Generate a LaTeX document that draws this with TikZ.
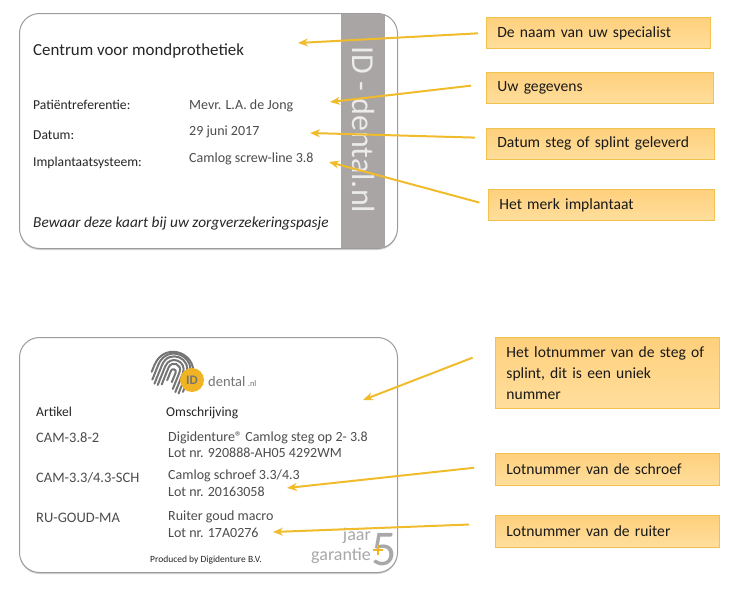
\documentclass[tikz,border=0pt]{standalone}
\usepackage{fontspec}
\usepackage{xcolor}
\usetikzlibrary{arrows.meta,shadows}
\setmainfont{Carlito}
\definecolor{cardline}{HTML}{9C9C9C}
\definecolor{stripgray}{HTML}{A9A5A4}
\definecolor{arrowgold}{HTML}{F1BC2C}
\definecolor{boxline}{HTML}{F2C24F}
\definecolor{boxtop}{HTML}{FFD07C}
\definecolor{boxbottom}{HTML}{FFDE9C}
\definecolor{logogold}{HTML}{F0B323}
\definecolor{logogray}{HTML}{757575}
\definecolor{softgray}{HTML}{A8A8A8}
\tikzset{
    card-box/.style = {draw=cardline, fill=white, line width=1pt, rectangle, rounded corners=20pt, anchor=north west, minimum width=378pt, minimum height=235pt, drop shadow={shadow xshift=0pt, shadow yshift=-1.5pt, opacity=.35}},
    info-box/.style = {draw=boxline, top color=boxtop, bottom color=boxbottom, line width=.8pt, rectangle, anchor=north west, inner xsep=11pt, inner ysep=0pt, align=left, text=black!90, font=\fontsize{15.6}{21}\selectfont},
    card-label/.style = {anchor=base west, inner sep=0pt, text=black!85, font=\fontsize{13.6}{16}\selectfont},
    card-value/.style = {card-label, text=black!70, font=\fontsize{14}{16}\selectfont},
    card-code/.style = {card-label, text=black!70, font=\fontsize{14.5}{16}\selectfont},
    lead-line/.style = {draw=arrowgold, line width=2pt, -{Stealth[length=10pt,width=8pt]}},
    finger-line/.style = {draw=logogray, line width=2pt, line cap=round},
}

\begin{document}
\begin{tikzpicture}[x=1pt,y=-1pt]
\useasboundingbox (0,0) rectangle (750,597);

\node [card-box] (front) at (19,13) {};
\fill [stripgray] (341,13.5) rectangle (385,247.5);
\node [rotate=-90, text=white!92!black, font=\fontsize{32}{32}\selectfont, inner sep=0pt] (brand) at (363,130) {ID - dental.nl};

\node [card-label, font=\fontsize{16.9}{18}\selectfont] (centrum) at (33,55) {Centrum voor mondprothetiek};
\node [card-label] (patient) at (33,109) {Patiëntreferentie:};
\node [card-value] (patient-val) at (189,109) {Mevr. L.A. de Jong};
\node [card-label] (datum) at (33,139) {Datum:};
\node [card-value] (datum-val) at (189,135) {29 juni 2017};
\node [card-label] (systeem) at (33,166) {Implantaatsysteem:};
\node [card-value] (systeem-val) at (189,162) {Camlog screw-line 3.8};
\node [card-label, font=\fontsize{15.3}{18}\itshape] (bewaar) at (33,227) {Bewaar deze kaart bij uw zorgverzekeringspasje};

\node [card-box] (back) at (19,337) {};
\begin{scope}[shift={(174,370)}, rotate=-22]
  \foreach \r/\top/\bot in {2.5/2/12, 6/0/18, 9.5/0/20, 13/0/20, 16.5/1/17, 20/3/10} {
    \draw [finger-line] (-\r,\bot) -- (-\r,\top) .. controls (-\r,{\top-1.4*\r}) and (\r,{\top-1.4*\r}) .. (\r,\top) -- (\r,\bot);
  }
\end{scope}
\node [circle, fill=logogold, minimum size=24pt, inner sep=0pt, text=logogray, font=\fontsize{13}{13}\bfseries\selectfont] (logo-id) at (192,380) {ID};
\node [anchor=base west, inner sep=0pt, text=logogray, font=\fontsize{14.5}{14}\selectfont] (logo-name) at (208,386) {dental\,{\fontsize{8.5}{8}\selectfont.nl}};

\node [card-label] (artikel) at (36,416) {Artikel};
\node [card-label] (omschrijving) at (166,416) {Omschrijving};
\node [card-code] (code-steg) at (36,442) {CAM-3.8-2};
\node [card-value] (desc-steg) at (168,441) {Digidenture® Camlog steg op 2- 3.8};
\node [card-value] (lot-steg) at (168,457) {Lot nr. 920888-AH05 4292WM};
\node [card-code] (code-schroef) at (36,482) {CAM-3.3/4.3-SCH};
\node [card-value] (desc-schroef) at (168,479) {Camlog schroef 3.3/4.3};
\node [card-value] (lot-schroef) at (168,496) {Lot nr. 20163058};
\node [card-code] (code-ruiter) at (36,522) {RU-GOUD-MA};
\node [card-value] (desc-ruiter) at (168,520) {Ruiter goud macro};
\node [card-value] (lot-ruiter) at (168,537) {Lot nr. 17A0276};
\node [card-label, font=\fontsize{9.5}{11}\selectfont] (produced) at (150,562) {Produced by Digidenture B.V.};
\node [anchor=base east, inner sep=0pt, text=softgray, font=\fontsize{18}{18}\selectfont] (jaar) at (371,540) {jaar};
\node [anchor=base east, inner sep=0pt, text=softgray, font=\fontsize{18}{18}\selectfont] (garantie) at (371,560) {garantie};
\node [anchor=base west, inner sep=0pt, text=softgray, font=\fontsize{50}{50}\selectfont] (five) at (371,565) {5};
\draw [logogold, line width=2.6pt] (373,550) -- (383,550) (378,545) -- (378,555);

\node [info-box, minimum width=224pt, minimum height=31pt, text width=202pt] (naam) at (486,17) {De naam van uw specialist};
\node [info-box, minimum width=227pt, minimum height=31pt, text width=205pt] (gegevens) at (486,72) {Uw gegevens};
\node [info-box, minimum width=228pt, minimum height=31pt, text width=206pt] (geleverd) at (486,128) {Datum steg of splint geleverd};
\node [info-box, minimum width=226pt, minimum height=31pt, text width=204pt] (merk) at (488,189) {Het merk implantaat};
\node [info-box, minimum width=224pt, minimum height=71pt, text width=202pt] (lotnummer) at (495,337) {Het lotnummer van de steg of\\splint, dit is een uniek\\nummer};
\node [info-box, minimum width=224pt, minimum height=32pt, text width=202pt] (schroef) at (495,453) {Lotnummer van de schroef};
\node [info-box, minimum width=224pt, minimum height=32pt, text width=202pt] (ruiter) at (495,515) {Lotnummer van de ruiter};

\coordinate (naam-tip) at (298,43);
\coordinate (gegevens-tip) at (330,102);
\coordinate (geleverd-tip) at (310,133);
\coordinate (merk-tip) at (329,162);
\coordinate (lotnummer-tip) at (363,400);
\coordinate (schroef-tip) at (287,488);
\coordinate (ruiter-tip) at (273,532);

\draw [lead-line, shorten <=8pt] (naam.west) -- (naam-tip);
\draw [lead-line, shorten <=15pt] (gegevens.178) -- (gegevens-tip);
\draw [lead-line, shorten <=11pt] (geleverd.177) -- (geleverd-tip);
\draw [lead-line, shorten <=9pt] (merk.west) -- (merk-tip);
\draw [lead-line, shorten <=24pt] (lotnummer.168) -- (lotnummer-tip);
\draw [lead-line, shorten <=21pt] (schroef.178) -- (schroef-tip);
\draw [lead-line, shorten <=26pt] (ruiter.176) -- (ruiter-tip);
\end{tikzpicture}
\end{document}
